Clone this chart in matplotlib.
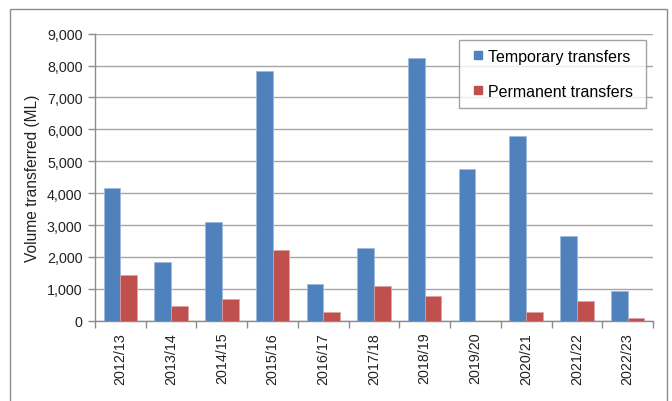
import matplotlib
matplotlib.use("Agg")
import matplotlib.pyplot as plt
import numpy as np
from matplotlib.patches import Rectangle
from matplotlib.lines import Line2D
from matplotlib.ticker import FuncFormatter, MultipleLocator, FixedLocator

years = ["2012/13", "2013/14", "2014/15", "2015/16", "2016/17", "2017/18",
         "2018/19", "2019/20", "2020/21", "2021/22", "2022/23"]
temporary = [4150, 1850, 3085, 7840, 1160, 2280, 8245, 4755, 5790, 2645, 920]
permanent = [1430, 450, 680, 2215, 280, 1080, 765, 0, 260, 625, 95]
series_names = ["Temporary transfers", "Permanent transfers"]
colors = ["#4F81BD", "#C0504D"]

plt.rcParams['font.family'] = ['Liberation Sans', 'DejaVu Sans']

W, H = 672, 402
fig = plt.figure(figsize=(W / 100, H / 100), dpi=100)
ax = fig.add_axes([95 / W, 1 - 321.7 / H, (653 - 95) / W, (321.7 - 34.7) / H])

# outer frame
fig.patches.append(Rectangle((10 / W, -0.1), (667 - 10) / W, 1.1 - 10 / H,
                             transform=fig.transFigure, fill=False,
                             edgecolor="#8c8c8c", linewidth=1.0))

x = np.arange(len(years))
w = 0.33
ax.bar(x - w / 2, temporary, w, color=colors[0], edgecolor="#9DB8DC",
       linewidth=0.5, zorder=3)
ax.bar(x + w / 2, permanent, w, color=colors[1], edgecolor="#E0A3A1",
       linewidth=0.5, zorder=3)

ax.set_xlim(-0.5, len(years) - 0.5)
ax.set_ylim(0, 9000)
ax.yaxis.set_major_locator(MultipleLocator(1000))
ax.yaxis.set_major_formatter(FuncFormatter(lambda v, p: f"{int(v):,}"))
ax.grid(axis="y", color="#a6a6a6", linewidth=1.0, zorder=0)
ax.set_axisbelow(True)

ax.set_xticks(x)
ax.set_xticklabels(years, rotation=90, fontsize=10.3, color="#222222")
ax.xaxis.set_minor_locator(FixedLocator(np.arange(-0.5, len(years), 1.0)))
ax.tick_params(axis="x", which="major", length=0, pad=8)
ax.tick_params(axis="x", which="minor", length=5, color="#8c8c8c", width=1)
ax.tick_params(axis="y", length=5, color="#8c8c8c", width=1, labelsize=10.3,
               labelcolor="#222222", pad=4)

for s in ["top", "right"]:
    ax.spines[s].set_visible(False)
for s in ["left", "bottom"]:
    ax.spines[s].set_color("#8c8c8c")
    ax.spines[s].set_linewidth(1.0)

ax.set_ylabel("Volume transferred (ML)", fontsize=11.2, color="#222222", labelpad=5)

handles = [Line2D([], [], linestyle="none", marker="s", markersize=6,
                  markerfacecolor=c, markeredgecolor=c) for c in colors]
leg = ax.legend(handles, [n + " " for n in series_names],
                loc="upper right", bbox_to_anchor=(0.9875, 0.978), fontsize=11.5,
                frameon=True, fancybox=False, edgecolor="#8c8c8c",
                handlelength=1.4, handletextpad=-0.12,
                labelspacing=1.25, borderpad=0.55, borderaxespad=0)
leg.get_frame().set_linewidth(1.0)
leg.set_zorder(5)

fig.savefig("out.png", dpi=100)
